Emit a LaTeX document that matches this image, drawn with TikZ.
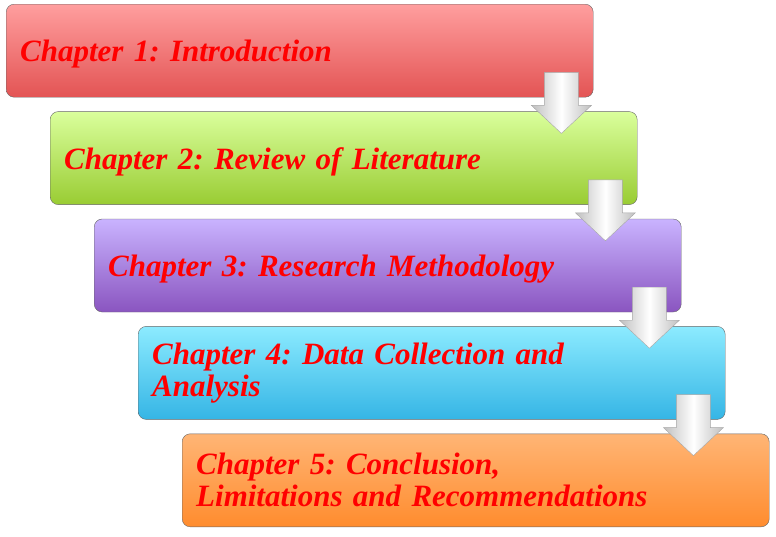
\documentclass[tikz,border=0pt]{standalone}
\usepackage{fontspec}
\setmainfont{Liberation Serif}
\usetikzlibrary{positioning}
\definecolor{redtop}{HTML}{FF9E9E}
\definecolor{redbot}{HTML}{E35454}
\definecolor{greentop}{HTML}{DAFF9C}
\definecolor{greenbot}{HTML}{99CC33}
\definecolor{purpletop}{HTML}{C9B3FF}
\definecolor{purplebot}{HTML}{8A55C0}
\definecolor{bluetop}{HTML}{8CEBFF}
\definecolor{bluebot}{HTML}{35B5E5}
\definecolor{orangetop}{HTML}{FFB575}
\definecolor{orangebot}{HTML}{FF8C2E}
\definecolor{chaptext}{HTML}{FF0000}
\frenchspacing
\begin{document}
\begin{tikzpicture}[x=1pt,y=1pt,
  chapter/.style={rectangle,rounded corners=8pt,draw=black!60,thin,
    minimum width=587pt,minimum height=93pt,text width=559pt,inner xsep=14pt,
    align=left,text=chaptext,font=\fontsize{31}{32}\selectfont\bfseries\itshape},
  one line/.style={text height=29pt,text depth=7pt},
  down arrow/.style={draw=gray!70,thin,left color=gray!50,right color=gray!50,middle color=white}]

  \useasboundingbox (0,0) rectangle (776,-536);

  \node[chapter,one line,top color=redtop,bottom color=redbot,anchor=north west] (c1) at (6,-4) {Chapter 1: Introduction};
  \node[chapter,one line,top color=greentop,bottom color=greenbot,below=14pt of c1,xshift=44pt] (c2) {Chapter 2: Review of Literature};
  \node[chapter,one line,top color=purpletop,bottom color=purplebot,below=14pt of c2,xshift=44pt] (c3) {Chapter 3: Research Methodology};
  \node[chapter,top color=bluetop,bottom color=bluebot,below=14pt of c3,xshift=44pt] (c4) {Chapter 4: Data Collection and\\Analysis};
  \node[chapter,top color=orangetop,bottom color=orangebot,below=14pt of c4,xshift=44pt] (c5) {Chapter 5: Conclusion,\\Limitations and Recommendations};

  \foreach \i in {1,...,4}{
    \coordinate (t\i) at ([shift={(-32pt,-36pt)}]c\i.south east);
    \path[down arrow] (t\i) -- ++(-30,28) -- ++(13,0) -- ++(0,33) -- ++(34,0)
      -- ++(0,-33) -- ++(13,0) -- cycle;
  }
\end{tikzpicture}
\end{document}
